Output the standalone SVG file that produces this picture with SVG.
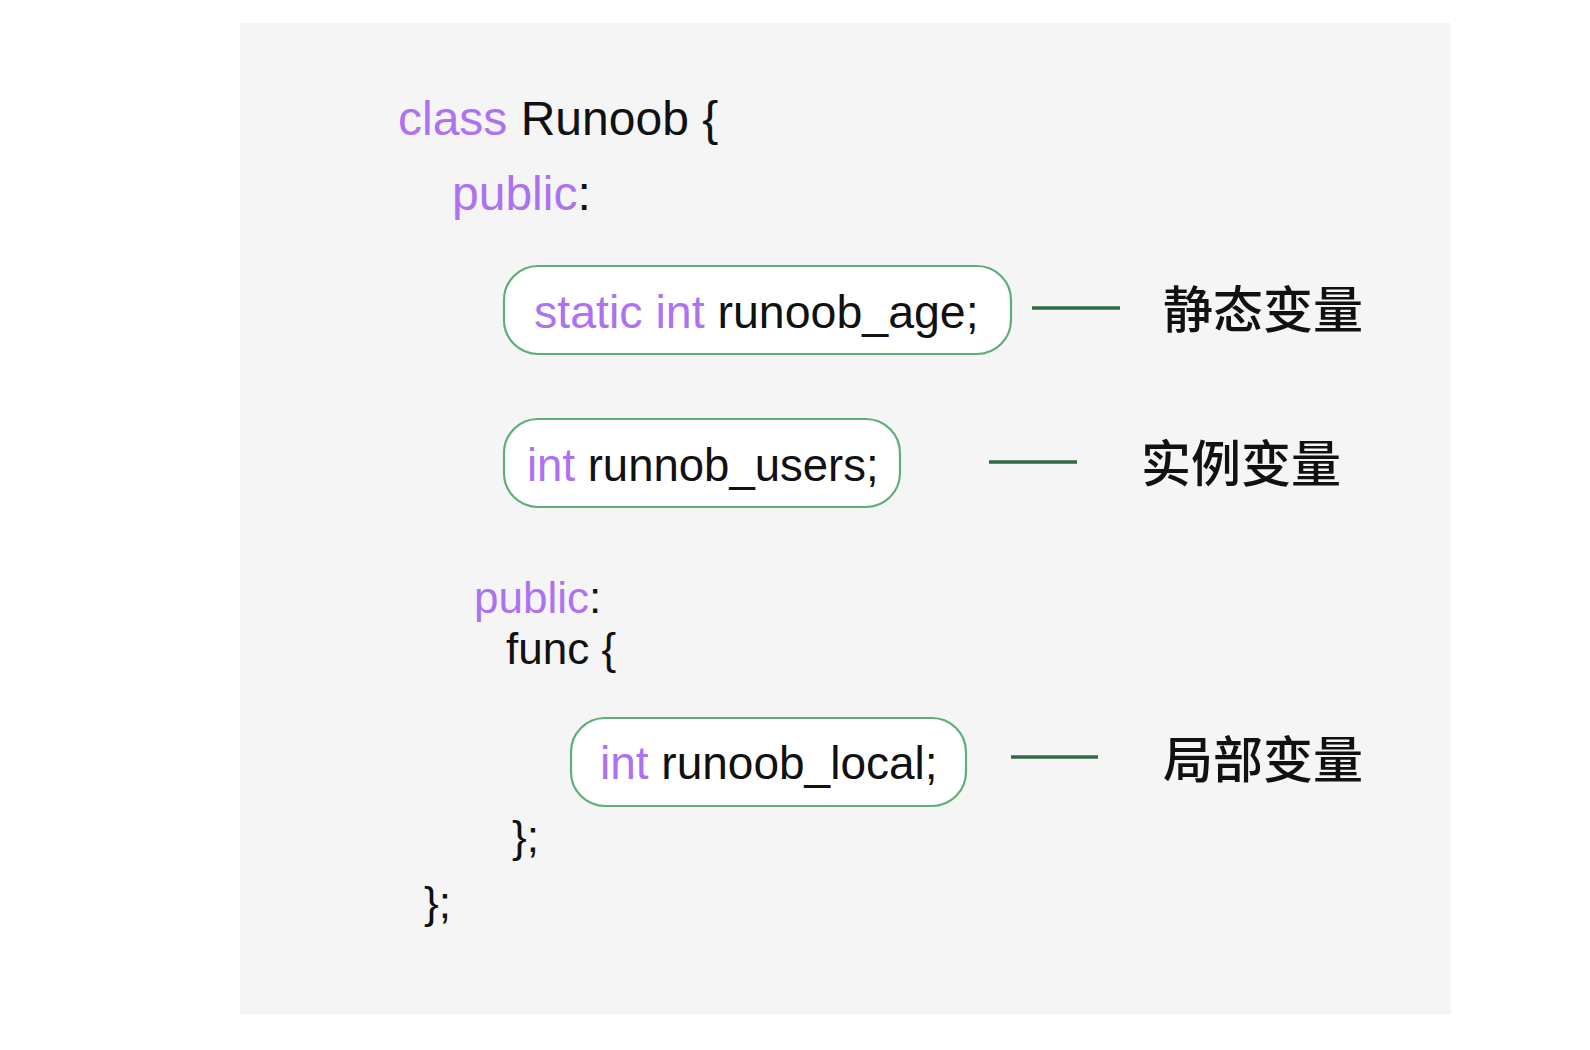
<svg xmlns="http://www.w3.org/2000/svg" width="1590" height="1050" viewBox="0 0 1590 1050">
<style>
.code{font-family:"Liberation Sans",Arial,sans-serif;fill:#111}
.kw{fill:#ac72f2}
.box{fill:#ffffff;stroke:#5fae78;stroke-width:2.2}
.lbl{font-family:"Noto Sans CJK SC","Noto Sans",sans-serif;font-size:50px;font-weight:500;fill:#111}
.conn{stroke:#2e6b42;stroke-width:3.5;fill:none}
</style>
<rect x="0" y="0" width="1590" height="1050" fill="#ffffff"/>
<rect x="240" y="23" width="1211" height="991" fill="#f5f5f5"/>
<g id="code">
<text class="code" x="398" y="135" font-size="48"><tspan class="kw">class</tspan> Runoob {</text>
<text class="code" x="452" y="210" font-size="48"><tspan class="kw">public</tspan>:</text>
<text class="code" x="474" y="613" font-size="44"><tspan class="kw">public</tspan>:</text>
<text class="code" x="506" y="664" font-size="44">func {</text>
<text class="code" x="512" y="852" font-size="44">};</text>
<text class="code" x="424" y="918" font-size="44">};</text>
</g>
<g id="node-static">
<rect class="box" x="504" y="266" width="507" height="88" rx="34"/>
<text class="code" x="534" y="328" font-size="46.5"><tspan class="kw">static int</tspan> runoob_age;</text>
</g>
<g id="node-instance">
<rect class="box" x="504" y="419" width="396" height="88" rx="34"/>
<text class="code" x="527" y="481" font-size="45.5"><tspan class="kw">int</tspan> runnob_users;</text>
</g>
<g id="node-local">
<rect class="box" x="571" y="718" width="395" height="88" rx="34"/>
<text class="code" x="600" y="779" font-size="46"><tspan class="kw">int</tspan> runoob_local;</text>
</g>
<g id="connectors">
<line class="conn" x1="1032" y1="308" x2="1120" y2="308"/>
<line class="conn" x1="989" y1="462" x2="1077" y2="462"/>
<line class="conn" x1="1011" y1="757" x2="1098" y2="757"/>
</g>
<g id="label-static"><text class="lbl" x="1163" y="328">静态变量</text></g>
<g id="label-instance"><text class="lbl" x="1141" y="482">实例变量</text></g>
<g id="label-local"><text class="lbl" x="1163" y="778">局部变量</text></g>
</svg>
